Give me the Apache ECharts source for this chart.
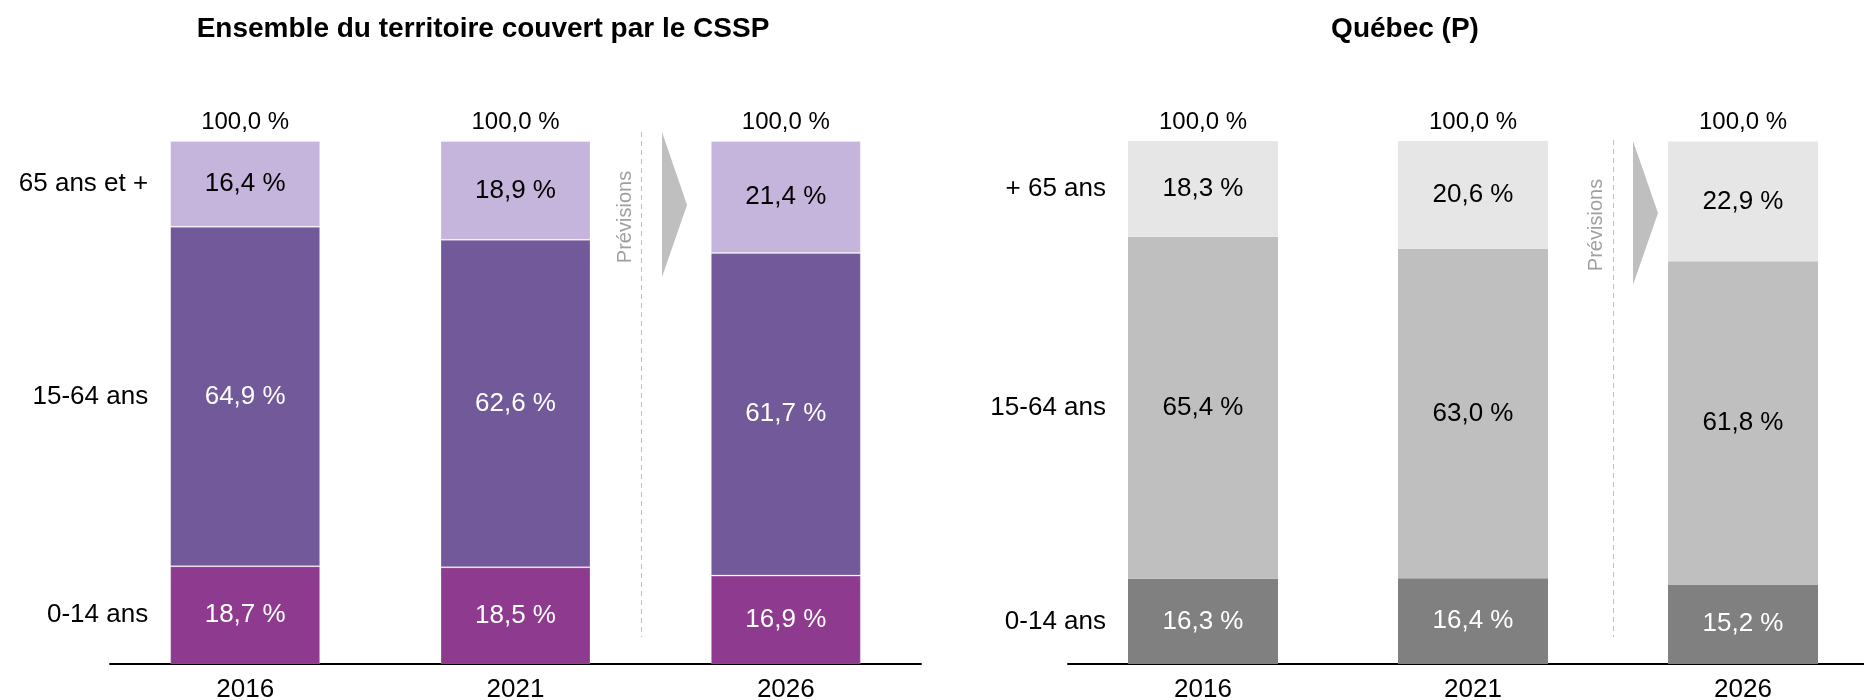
<!DOCTYPE html>
<html>
<head>
<meta charset="utf-8">
<script src="https://cdn.jsdelivr.net/npm/echarts@6/dist/echarts.min.js"></script>
<style>
    html, body { margin: 0; padding: 0; background: #fff; }
    #chart { width: 1864px; height: 700px; }
</style>
</head>
<body>
<div id="chart"></div>
<script>
// années
var categories = ['2016', '2021', '2026'];

// Ensemble du territoire couvert par le CSSP
var csspNames = ['0-14 ans', '15-64 ans', '65 ans et +'];
var cssp014 = [18.7, 18.5, 16.9];
var cssp1564 = [64.9, 62.6, 61.7];
var cssp65 = [16.4, 18.9, 21.4];
var csspTotal = [100, 100, 100];

// Québec (P)
var qcNames = ['0-14 ans', '15-64 ans', '+ 65 ans'];
var qc014 = [16.3, 16.4, 15.2];
var qc1564 = [65.4, 63.0, 61.8];
var qc65 = [18.3, 20.6, 22.9];
var qcTotal = [100, 100, 100];

var FONT = "'Liberation Sans', Arial, sans-serif";

function pct(p) {
    return p.value.toFixed(1).replace('.', ',') + ' %';
}

// une tranche d'âge empilée
function segment(name, idx, data, color, textColor, border) {
    return {
        name: name,
        type: 'bar',
        xAxisIndex: idx,
        yAxisIndex: idx,
        stack: 'age' + idx,
        barWidth: 150,
        barGap: '-100%',
        data: data,
        itemStyle: {
            color: color,
            borderColor: border ? 'rgba(255,255,255,0.25)' : color,
            borderWidth: border ? 1 : 0
        },
        label: {
            show: true,
            position: 'inside',
            color: textColor,
            fontSize: 26,
            fontFamily: FONT,
            formatter: pct
        },
        silent: true
    };
}

// série invisible : nom de la tranche à gauche de la première barre
function rowLabel(name, idx, data) {
    var d = data.map(function (v, i) {
        return i === 0 ? {value: v, label: {show: true}} : v;
    });
    return {
        name: name,
        type: 'bar',
        xAxisIndex: idx,
        yAxisIndex: idx,
        stack: 'lab' + idx,
        barWidth: 150,
        barGap: '-100%',
        data: d,
        itemStyle: {color: 'rgba(0,0,0,0)'},
        label: {
            show: false,
            position: 'left',
            distance: 22,
            color: '#000',
            fontSize: 26,
            fontFamily: FONT,
            formatter: '{a}'
        },
        silent: true
    };
}

function totalBar(idx, data) {
    return {
        type: 'bar',
        xAxisIndex: idx,
        yAxisIndex: idx,
        stack: 'tot' + idx,
        barWidth: 150,
        barGap: '-100%',
        data: data,
        itemStyle: {color: 'rgba(0,0,0,0)'},
        label: {
            show: true,
            position: 'top',
            distance: 7,
            color: '#000',
            fontSize: 24,
            fontFamily: FONT,
            formatter: pct
        },
        silent: true
    };
}

function xAxisFor(idx) {
    return {
        type: 'category',
        gridIndex: idx,
        data: categories,
        axisLine: {lineStyle: {color: '#000', width: 2}},
        axisTick: {show: false},
        axisLabel: {color: '#000', fontSize: 26, fontFamily: FONT, margin: 13}
    };
}

function yAxisFor(idx) {
    return {type: 'value', gridIndex: idx, min: 0, max: 100, show: false};
}

var chart = echarts.init(document.getElementById('chart'));

var option = {
    animation: false,
    backgroundColor: '#fff',
    title: [
        {
            text: 'Ensemble du territoire couvert par le CSSP',
            left: 478, top: 10, textAlign: 'center',
            textStyle: {fontSize: 28, fontWeight: 'bold', color: '#000', fontFamily: FONT}
        },
        {
            text: 'Québec (P)',
            left: 1400, top: 10, textAlign: 'center',
            textStyle: {fontSize: 28, fontWeight: 'bold', color: '#000', fontFamily: FONT}
        }
    ],
    grid: [
        {left: 110, right: 943, top: 141, bottom: 36, outerBoundsMode: 'none'},
        {left: 1068, right: -14, top: 141, bottom: 36, outerBoundsMode: 'none'}
    ],
    xAxis: [xAxisFor(0), xAxisFor(1)],
    yAxis: [yAxisFor(0), yAxisFor(1)],
    series: [
        segment(csspNames[0], 0, cssp014, '#8E3B8F', '#fff', true),
        segment(csspNames[1], 0, cssp1564, '#725999', '#fff', true),
        segment(csspNames[2], 0, cssp65, '#C5B4DB', '#000', true),
        rowLabel(csspNames[0], 0, cssp014),
        rowLabel(csspNames[1], 0, cssp1564),
        rowLabel(csspNames[2], 0, cssp65),
        totalBar(0, csspTotal),

        segment(qcNames[0], 1, qc014, '#808080', '#fff', false),
        segment(qcNames[1], 1, qc1564, '#BFBFBF', '#000', false),
        segment(qcNames[2], 1, qc65, '#E6E6E6', '#000', false),
        rowLabel(qcNames[0], 1, qc014),
        rowLabel(qcNames[1], 1, qc1564),
        rowLabel(qcNames[2], 1, qc65),
        totalBar(1, qcTotal)
    ],
    // séparateur "Prévisions" entre 2021 et 2026
    graphic: [
        {type: 'line', shape: {x1: 641.5, y1: 132, x2: 641.5, y2: 637},
            style: {stroke: '#BFBFBF', lineWidth: 1, lineDash: [5, 4]}},
        {type: 'polygon', shape: {points: [[662, 132], [687, 205], [662, 277]]},
            style: {fill: '#BFBFBF'}},
        {type: 'text', x: 625, y: 217, rotation: Math.PI / 2,
            style: {text: 'Prévisions', font: '20px ' + FONT, fill: '#A0A0A0',
                textAlign: 'center', textVerticalAlign: 'middle'}},

        {type: 'line', shape: {x1: 1613.5, y1: 140, x2: 1613.5, y2: 637},
            style: {stroke: '#BFBFBF', lineWidth: 1, lineDash: [5, 4]}},
        {type: 'polygon', shape: {points: [[1633, 141], [1658, 213], [1633, 285]]},
            style: {fill: '#BFBFBF'}},
        {type: 'text', x: 1596, y: 225, rotation: Math.PI / 2,
            style: {text: 'Prévisions', font: '20px ' + FONT, fill: '#A0A0A0',
                textAlign: 'center', textVerticalAlign: 'middle'}}
    ]
};

chart.setOption(option);
</script>
</body>
</html>
